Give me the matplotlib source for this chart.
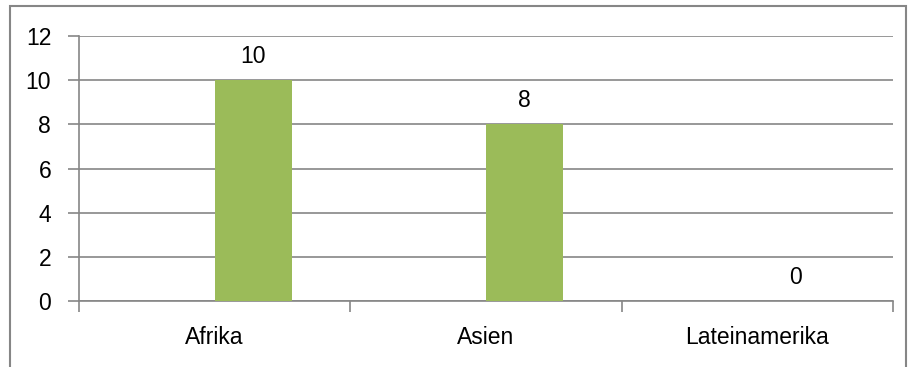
import matplotlib
matplotlib.use("Agg")
import matplotlib.pyplot as plt
from matplotlib.patches import Rectangle

# Daten
kategorien = ["Afrika", "Asien", "Lateinamerika"]
werte = [10, 8, 0]
y_ticks = [0, 2, 4, 6, 8, 10, 12]

plt.rcParams['font.family'] = ['Liberation Sans', 'DejaVu Sans']
fs = 16.5

fig = plt.figure(figsize=(9.09, 3.67), dpi=100)
W, H = 909, 367
ax = fig.add_axes([79 / W, 1 - 301 / H, (893 - 79) / W, (301 - 36) / H])

grau = "#868686"
gruen = "#9BBB59"

# Balken: rechts von der Kategoriemitte (wie in der Vorlage)
pos = [i + 0.5 for i in range(len(kategorien))]
ax.bar(pos, werte, width=0.285, align='edge', color=gruen, zorder=3)
for p, v in zip(pos, werte):
    ax.text(p + 0.1425, v + 0.55, str(v), ha='center', va='bottom', fontsize=fs)

ax.set_xlim(0, 3)
ax.set_ylim(0, 12)
ax.set_yticks(y_ticks)
ax.set_yticklabels([str(t) for t in y_ticks], fontsize=fs)
ax.yaxis.grid(True, color=grau, linewidth=1.2, zorder=0)

# Kategorien-Achse: Ticks an Grenzen, Beschriftung in der Mitte
ax.set_xticks([0, 1, 2, 3])
ax.set_xticklabels([])
ax.set_xticks(pos, minor=True)
ax.set_xticklabels(kategorien, minor=True, fontsize=fs)
ax.tick_params(axis='x', which='minor', length=0, pad=18)
ax.tick_params(axis='x', which='major', length=8, color=grau, width=1.2)
ax.tick_params(axis='y', length=8, color=grau, width=1.2, pad=12)

for s in ["top", "right"]:
    ax.spines[s].set_visible(False)
for s in ["left", "bottom"]:
    ax.spines[s].set_color(grau)
    ax.spines[s].set_linewidth(1.2)

# Rahmen um das Diagramm
fig.patches.append(Rectangle((10 / W, -0.05), (906 - 10) / W, 1.05 - 6 / H,
                             transform=fig.transFigure, fill=False,
                             edgecolor=grau, linewidth=1.5))

fig.savefig("out.png", dpi=100)
